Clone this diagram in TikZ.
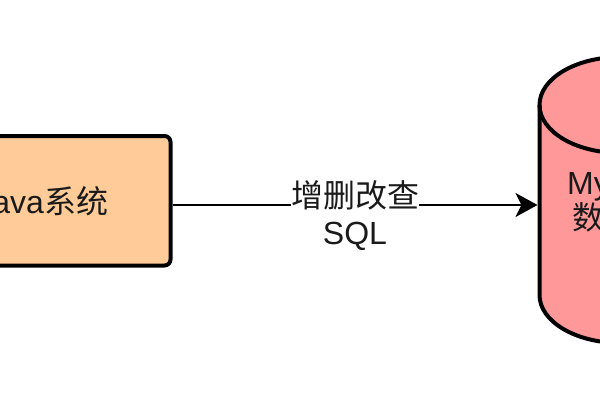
\documentclass[tikz,border=0pt]{standalone}
\usepackage{fontspec}
\setmainfont{Liberation Sans}
\newfontfamily\cjk{Noto Sans CJK SC}
\usetikzlibrary{arrows.meta}
\definecolor{javafill}{HTML}{FFCC99}
\definecolor{dbfill}{HTML}{FF9999}
\definecolor{txt}{HTML}{1A1A1A}
\tikzset{
  sysbox/.style={draw=black, line width=4pt, fill=javafill, rounded corners=6pt,
    minimum width=256.5pt, minimum height=129.5pt, inner sep=0pt,
    font=\fontsize{32pt}{37pt}\selectfont, text=txt},
  dbtext/.style={align=center, inner sep=0pt, text=txt,
    font=\fontsize{32pt}{35pt}\selectfont},
  edgelabel/.style={align=center, inner sep=0pt, fill=white, text=txt,
    font=\fontsize{32pt}{37pt}\selectfont},
  conn/.style={line width=2.5pt, -{Stealth[length=22pt, width=24pt, inset=6pt]}},
  dbline/.style={line width=4pt, draw=black}
}
\begin{document}
\begin{tikzpicture}[x=1pt, y=1pt]
\useasboundingbox (0,0) rectangle (600,400);
\clip (0,0) rectangle (600,400);
\fill[white] (0,0) rectangle (600,400);
% Java system box
\node[sysbox] (java) at (42.25,199.25) {Java{\cjk 系统}};
% database cylinder
\fill[dbfill] (539.5,295) -- (539.5,105)
  arc[start angle=180, end angle=360, x radius=81, y radius=48]
  -- (701.5,295) arc[start angle=0, end angle=180, x radius=81, y radius=48] -- cycle;
\draw[dbline] (539.5,295) -- (539.5,105)
  arc[start angle=180, end angle=360, x radius=81, y radius=48] -- (701.5,295);
\draw[dbline] (620.5,295) ellipse [x radius=81, y radius=48];
\node[dbtext] (db) at (620.5,197.7) {MySQL\\{\cjk 数据库}};
\coordinate (dbw) at (537.5,195);
% connector
\draw[conn] (java.east |- dbw) -- node[edgelabel, yshift=-10.5pt] (lbl) {{\cjk 增删改查}\\SQL} (dbw);
\end{tikzpicture}
\end{document}
